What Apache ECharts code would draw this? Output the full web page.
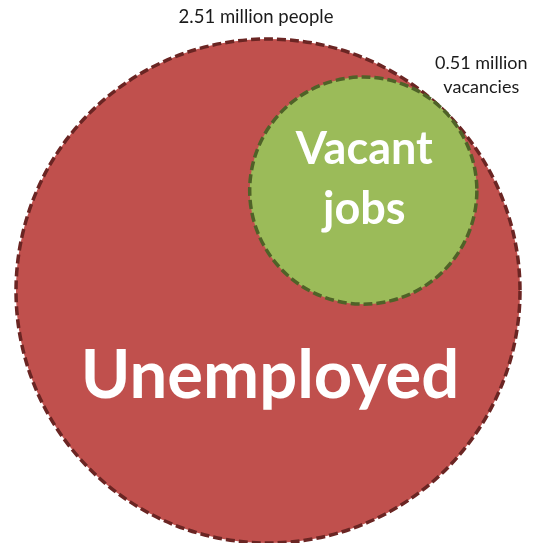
<!DOCTYPE html>
<html>
<head>
<meta charset="utf-8">
<script src="https://cdn.jsdelivr.net/npm/echarts@6/dist/echarts.min.js"></script>
<style>
  html, body { margin: 0; padding: 0; background: #ffffff; }
  #chart { width: 540px; height: 543px; }
</style>
</head>
<body>
<div id="chart"></div>
<script>
// Unemployed people versus vacant jobs (millions); circle area is proportional to the value
const groups = ['Unemployed', 'Vacant jobs'];
const values = [2.51, 0.51];
const innerLabels = ['Unemployed', 'Vacant\njobs'];
const outerLabels = ['2.51 million people', '0.51 million\nvacancies'];

const fills = ['#c0504d', '#9bbb59'];
const strokes = ['#6a2523', '#4f6228'];

// the smaller circle sits inside the larger one, touching it towards the upper right
const tangentAngle = 46.5 * Math.PI / 180;
const radii = values.map(v => Math.sqrt(v));
const centers = [
  [0, 0],
  [(radii[0] - radii[1]) * Math.cos(tangentAngle), (radii[0] - radii[1]) * Math.sin(tangentAngle)]
];

const seriesData = groups.map((g, i) => ({
  name: g,
  value: [centers[i][0], centers[i][1], values[i]]
}));

const chart = echarts.init(document.getElementById('chart'), null, { renderer: 'canvas' });

chart.setOption({
  animation: false,
  grid: { left: 0, right: 0, top: 0, bottom: 0 },
  xAxis: { type: 'value', min: -1.685, max: 1.71, show: false },
  yAxis: { type: 'value', min: -1.584, max: 1.829, show: false },
  series: [{
    type: 'custom',
    coordinateSystem: 'cartesian2d',
    data: seriesData,
    renderItem: function (params, api) {
      const i = params.dataIndex;
      const c = api.coord([api.value(0), api.value(1)]);
      const r = api.size([Math.sqrt(api.value(2)), 0])[0];
      const children = [{
        type: 'circle',
        shape: { cx: c[0], cy: c[1], r: r },
        style: {
          fill: fills[i],
          stroke: strokes[i],
          lineWidth: 3.5,
          lineDash: [9, 4]
        }
      }];
      if (i === 0) {
        children.push({
          type: 'text',
          style: {
            text: innerLabels[i], x: c[0] + 2, y: c[1] + 85,
            align: 'center', verticalAlign: 'middle',
            fill: '#ffffff', font: 'bold 67px Lato'
          }
        });
        children.push({
          type: 'text',
          style: {
            text: outerLabels[i], x: c[0] - 12, y: c[1] - r - 22,
            align: 'center', verticalAlign: 'middle',
            fill: '#1a1a1a', font: '18.5px Lato'
          }
        });
      } else {
        children.push({
          type: 'text',
          style: {
            text: innerLabels[i], x: c[0] + 1, y: c[1] - 11,
            align: 'center', verticalAlign: 'middle',
            fill: '#ffffff', font: 'bold 45px Lato', lineHeight: 60
          }
        });
        children.push({
          type: 'text',
          style: {
            text: outerLabels[i], x: c[0] + 118, y: c[1] - 115,
            align: 'center', verticalAlign: 'middle',
            fill: '#1a1a1a', font: '18px Lato', lineHeight: 24
          }
        });
      }
      return { type: 'group', children: children };
    }
  }]
});
</script>
</body>
</html>
